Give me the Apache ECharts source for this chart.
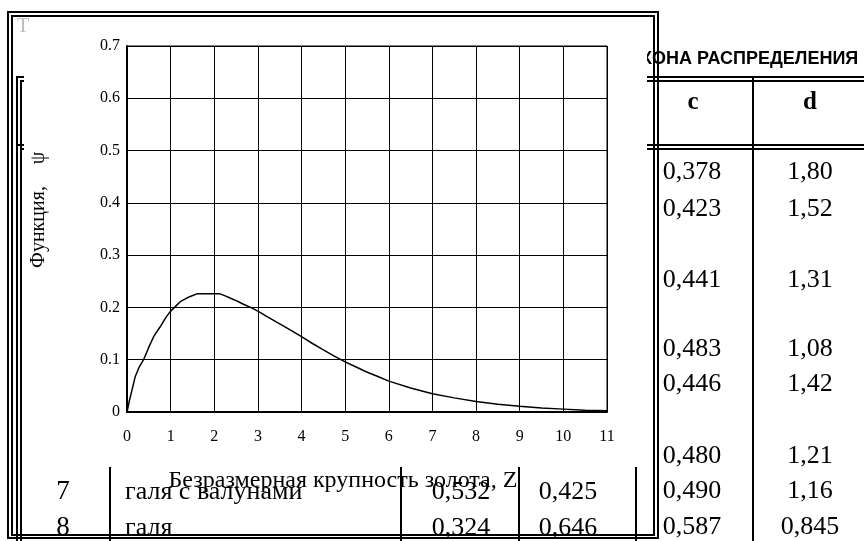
<!DOCTYPE html>
<html><head><meta charset="utf-8">
<script src="https://cdn.jsdelivr.net/npm/echarts@6/dist/echarts.min.js"></script>
<style>html,body{margin:0;padding:0;background:#fff}#c{width:864px;height:541px}</style>
</head><body><div id="c"></div>
<script>
// curve data
const zVals = [0, 0.05, 0.1, 0.19, 0.28, 0.38, 0.5, 0.61, 0.76, 0.9, 0.99, 1.1, 1.22, 1.35, 1.45, 1.6, 1.9, 2.13, 2.25, 2.36, 2.5, 2.67, 2.83, 3, 3.2, 3.43, 3.7, 4, 4.25, 4.5, 4.75, 5, 5.25, 5.48, 5.75, 6, 6.5, 7, 7.5, 8, 8.5, 9, 9.5, 10, 10.5, 11];
const psiVals = [0, 0.02, 0.037, 0.068, 0.086, 0.1, 0.124, 0.144, 0.163, 0.182, 0.192, 0.201, 0.211, 0.217, 0.221, 0.226, 0.226, 0.226, 0.222, 0.218, 0.213, 0.206, 0.2, 0.193, 0.183, 0.172, 0.159, 0.144, 0.131, 0.119, 0.107, 0.096, 0.086, 0.077, 0.068, 0.059, 0.046, 0.035, 0.027, 0.02, 0.015, 0.011, 0.0075, 0.0055, 0.0035, 0.0025];
// axis titles
const xTitle = 'Безразмерная крупность золота, Z';
const yTitle = 'Функция,';
const yTitleSym = 'ψ';
// right table
const headLeftPart = 'К';
const headRest = 'ОНА РАСПРЕДЕЛЕНИЯ';
const colHeads = ['c', 'd'];
const cVals = ['0,378', '0,423', '0,441', '0,483', '0,446', '0,480', '0,490', '0,587'];
const dVals = ['1,80', '1,52', '1,31', '1,08', '1,42', '1,21', '1,16', '0,845'];
// bottom-left table rows
const rowNums = ['7', '8'];
const rowNames = ['галя с валунами', 'галя'];
const rowA = ['0,532', '0,324'];
const rowB = ['0,425', '0,646'];

// layout (positions only)
const rightRowY = [172, 209, 280, 349, 384, 456, 491, 527];
const botRowY = [492, 528];
const SERIF = '"Liberation Serif", "Times New Roman", serif';
const SANS = '"Liberation Sans", Arial, sans-serif';

function L(x1, y1, x2, y2, z, w) {
  return { type: 'line', z: z, silent: true, shape: { x1, y1, x2, y2 }, style: { stroke: '#000', lineWidth: w || 2 } };
}
function T(text, x, y, font, align, z, fill, rot) {
  const e = { type: 'text', z: z, x: x, y: y, silent: true,
    style: { text: text, font: font, fill: fill || '#000', align: align || 'center', verticalAlign: 'middle' } };
  if (rot) e.rotation = rot;
  return e;
}

const g = [];
// --- table underneath (z 1)
g.push(L(17, 77, 864, 77, 1), L(21, 81, 864, 81, 1));
g.push(L(17, 145, 864, 145, 1), L(21, 149, 864, 149, 1));
g.push(L(17, 76, 17, 541, 1), L(21, 80, 21, 541, 1));
g.push(L(753, 77, 753, 541, 1));
[110, 401, 519, 636].forEach(x => g.push(L(x, 467, x, 541, 1)));
g.push(T(headLeftPart, 652, 59, 'bold 18px ' + SANS, 'right', 1));
g.push(T(headRest, 652, 59, 'bold 18px ' + SANS, 'left', 1));
g.push(T(colHeads[0], 693, 103, 'bold 25px ' + SERIF, 'center', 1));
g.push(T(colHeads[1], 810, 103, 'bold 25px ' + SERIF, 'center', 1));
cVals.forEach((v, i) => g.push(T(v, 692, rightRowY[i], '26px ' + SERIF, 'center', 1)));
dVals.forEach((v, i) => g.push(T(v, 810, rightRowY[i], '26px ' + SERIF, 'center', 1)));
rowNums.forEach((v, i) => g.push(T(v, 63, botRowY[i], '27px ' + SERIF, 'center', 1)));
rowNames.forEach((v, i) => g.push(T(v, 125, botRowY[i], '26px ' + SERIF, 'left', 1)));
rowA.forEach((v, i) => g.push(T(v, 461, botRowY[i], '26px ' + SERIF, 'center', 1)));
rowB.forEach((v, i) => g.push(T(v, 568, botRowY[i], '26px ' + SERIF, 'center', 1)));
// --- chart picture background (z 2)
g.push({ type: 'rect', z: 2, silent: true, shape: { x: 24, y: 17, width: 623, height: 450 }, style: { fill: '#fff' } });
// --- chart frame (z 3)
g.push({ type: 'rect', z: 3, silent: true, shape: { x: 8, y: 12, width: 650, height: 526 }, style: { fill: 'none', stroke: '#000', lineWidth: 2 } });
g.push({ type: 'rect', z: 3, silent: true, shape: { x: 12, y: 16, width: 642, height: 519 }, style: { fill: 'none', stroke: '#000', lineWidth: 2 } });
g.push(T('Т', 23, 27, '20px ' + SERIF, 'center', 3, '#bbb'));
// --- axis titles (z 4)
g.push(T(xTitle, 343, 481, '24px ' + SERIF, 'center', 4));
g.push(T(yTitle, 39, 227, '20px ' + SERIF, 'center', 4, '#000', Math.PI / 2));
g.push(T(yTitleSym, 39, 158, '20px ' + SERIF, 'center', 4, '#000', Math.PI / 2));

const chart = echarts.init(document.getElementById('c'), null, { renderer: 'canvas' });
chart.setOption({
  animation: false,
  backgroundColor: '#fff',
  grid: { left: 127, top: 46, width: 480, height: 366, show: true, borderColor: '#000', borderWidth: 1, z: 5 },
  xAxis: {
    type: 'value', min: 0, max: 11, interval: 1, z: 5,
    axisLine: { show: true, onZero: false, lineStyle: { color: '#000', width: 2 } },
    axisTick: { show: false },
    splitLine: { show: true, lineStyle: { color: '#000', width: 1 } },
    axisLabel: { margin: 17, color: '#000', fontSize: 16, fontFamily: SERIF }
  },
  yAxis: {
    type: 'value', min: 0, max: 0.7, interval: 0.1, z: 5,
    axisLine: { show: true, onZero: false, lineStyle: { color: '#000', width: 2 } },
    axisTick: { show: false },
    splitLine: { show: true, lineStyle: { color: '#000', width: 1 } },
    axisLabel: { margin: 7, color: '#000', fontSize: 16, fontFamily: SERIF, padding: [10, 0, 0, 0],
      formatter: v => String(Math.round(v * 10) / 10) }
  },
  series: [{
    type: 'line', z: 6, showSymbol: false, smooth: false,
    lineStyle: { color: '#000', width: 1.5 },
    data: zVals.map((z, i) => [z, psiVals[i]])
  }],
  graphic: { elements: g }
});
</script></body></html>
